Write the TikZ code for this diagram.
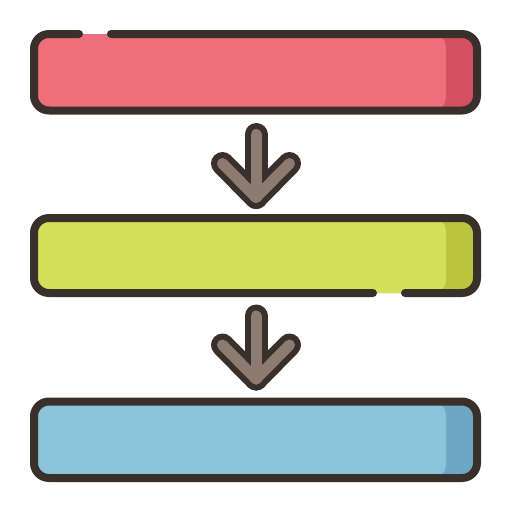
\documentclass[tikz,border=0pt]{standalone}
\definecolor{outl}{HTML}{3A302B}
\definecolor{redlight}{HTML}{EE6E7C}
\definecolor{reddark}{HTML}{D44F60}
\definecolor{greenlight}{HTML}{D4DF5A}
\definecolor{greendark}{HTML}{BCC43D}
\definecolor{bluelight}{HTML}{89C4DB}
\definecolor{bluedark}{HTML}{6CA8C3}
\definecolor{arrowgrey}{HTML}{8B7B72}
\begin{document}
\begin{tikzpicture}[x=1pt,y=-1pt,line join=round,line cap=round,
  outline/.style={draw=outl,line width=8pt,rounded corners=15pt},
  arrowout/.style={draw=outl,line width=23pt},
  arrowin/.style={draw=arrowgrey,line width=11pt}]
\useasboundingbox (0,0) rectangle (512,512);
% bars: fills
\foreach \ya/\yb/\cl/\cd in {34/110.5/redlight/reddark,218/293/greenlight/greendark,401.5/478/bluelight/bluedark}{
  \fill[\cd,rounded corners=15pt] (34,\ya) rectangle (477,\yb);
  \begin{scope}
    \clip[rounded corners=15pt] (34,\ya) rectangle (477,\yb);
    \fill[\cl,rounded corners=13pt] (0,\ya) rectangle (446,\yb);
  \end{scope}
}
% bar 1 outline with top gap
\draw[outline] (111,34) -- (477,34) -- (477,110.5) -- (34,110.5) -- (34,34) -- (79,34);
% bar 2 outline with bottom gap
\draw[outline] (373,293) -- (34,293) -- (34,218) -- (477,218) -- (477,293) -- (405,293);
% bar 3 outline
\draw[outline] (34,401.5) rectangle (477,478);
% arrows
\foreach \yy/\k in {0/a,181.5/b}{
  \coordinate (t\k) at (256,134.5+\yy);
  \coordinate (p\k) at (256,197.5+\yy);
  \coordinate (l\k) at (222.5,163.5+\yy);
  \coordinate (r\k) at (289.5,163.5+\yy);
  \draw[arrowout] (t\k) -- (p\k);
  \draw[arrowout] (l\k) -- (p\k) -- (r\k);
  \draw[arrowin] (t\k) -- (p\k);
  \draw[arrowin] (l\k) -- (p\k) -- (r\k);
}
\end{tikzpicture}
\end{document}
